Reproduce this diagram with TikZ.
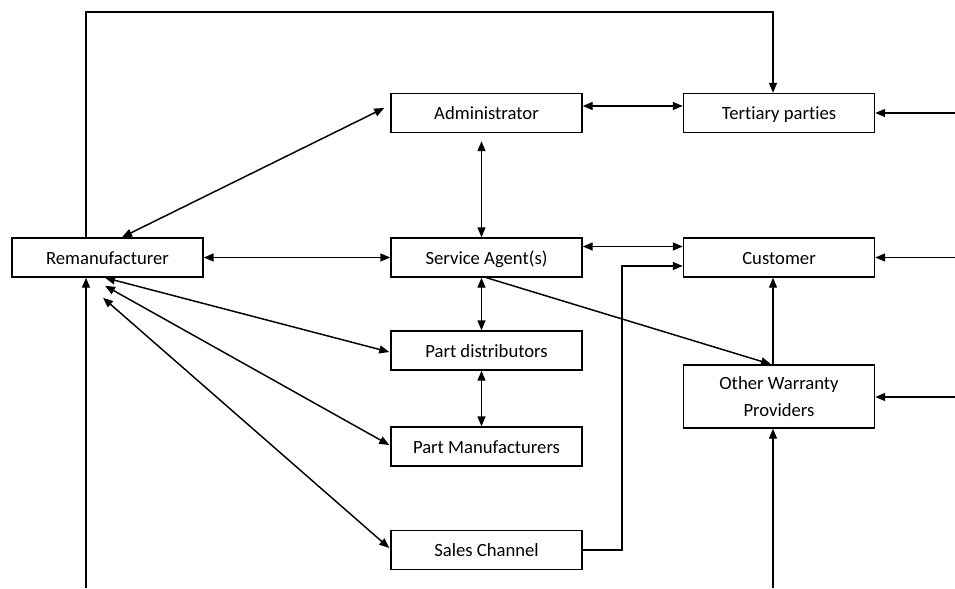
\documentclass[tikz,border=0pt]{standalone}
\usepackage{fontspec}
\setmainfont{Carlito}[Ligatures=NoCommon]
\usetikzlibrary{arrows.meta,calc}
\begin{document}
\begin{tikzpicture}[x=0.75pt,y=-0.75pt,
  frame/.style={draw,line width=1.1pt,minimum width=143.25pt,
    inner sep=0pt,align=center,font=\fontsize{14}{20}\selectfont},
  box/.style={frame,minimum height=29.25pt,text height=12pt,text depth=2pt},
  tall/.style={frame,minimum height=47.25pt},
  link/.style={line width=1.1pt,-{Triangle[length=7.5pt,width=6pt]}},
  both/.style={line width=1.1pt,{Triangle[length=7.5pt,width=6pt]}-{Triangle[length=7.5pt,width=6pt]}}]
  \useasboundingbox (0,0) rectangle (955,588);
  % boxes
  \node[box] (rem) at (107.5,257.5) {Remanufacturer};
  \node[box] (adm) at (486.5,113) {Administrator};
  \node[box] (ter) at (779,113) {Tertiary parties};
  \node[box] (sva) at (486.5,257.5) {Service Agent(s)};
  \node[box] (cus) at (779,257.5) {Customer};
  \node[box] (pdi) at (486.5,350.5) {Part distributors};
  \node[tall] (owp) at (779,396.5) {Other Warranty\\Providers};
  \node[box] (pmf) at (486.5,446.5) {Part Manufacturers};
  \node[box] (sal) at (486.5,550) {Sales Channel};
  % free ends and bends
  \coordinate (topL) at (86,12);
  \coordinate (topR) at (773,12);
  \coordinate (botL) at (86,588);
  \coordinate (botR) at (773,588);
  \coordinate (inT) at (955,113);
  \coordinate (inC) at (955,257.5);
  \coordinate (inO) at (955,397);
  \coordinate (jog) at (622,266);
  % loop over the top
  \draw[link] (rem.north -| topL) -- (topL) -- (topR) -- (ter.north -| topR);
  % incoming from below
  \draw[link] (botL) -- (rem.south -| botL);
  \draw[link] (botR) -- (owp.south -| botR);
  % incoming from the right
  \draw[link] (inT) -- (ter.east);
  \draw[link] (inC) -- (cus.east);
  \draw[link] (inO) -- (owp.east |- inO);
  % remanufacturer links
  \draw[both] ($(rem.north)+(14.5,0)$) -- ($(adm.west)+(-6,-5)$);
  \draw[both] (rem.east) -- (sva.west);
  \draw[both] ($(rem.south)+(-2.5,0)$) -- ($(pdi.west)+(-1,1.5)$);
  \draw[both] ($(rem.south)+(-2.5,8)$) -- ($(pmf.west)+(-1,-1.5)$);
  \draw[both] ($(rem.south)+(-4.5,20)$) -- ($(sal.west)+(-1,-2)$);
  % central column
  \draw[both] ($(adm.east)+(0,-7)$) -- ($(ter.west)+(0,-7)$);
  \draw[both] ($(adm.south)+(-5,8)$) -- ($(sva.north)+(-5,0)$);
  \draw[both] ($(sva.east)+(0,-11)$) -- ($(cus.west)+(0,-11)$);
  \draw[both] ($(sva.south)+(-5,0)$) -- ($(pdi.north)+(-5,0)$);
  \draw[both] ($(pdi.south)+(-5,0)$) -- ($(pmf.north)+(-5,0)$);
  % towards the customer
  \draw[link] (sal.east) -- (sal.east -| jog) -- (jog) -- (cus.west |- jog);
  \draw[link] (sva.south) -- ($(owp.north)+(-8,0)$);
  \draw[link] ($(owp.north)+(-6,0)$) -- ($(cus.south)+(-6,0)$);
\end{tikzpicture}
\end{document}
